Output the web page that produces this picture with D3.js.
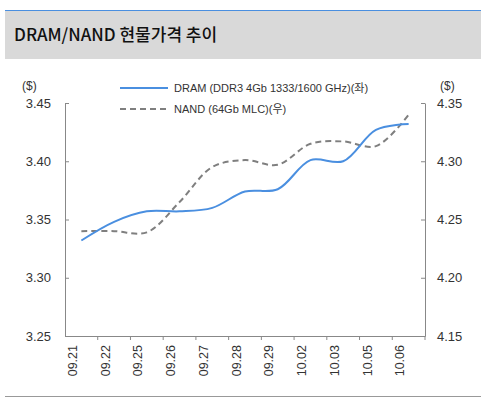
<!DOCTYPE html><html><head><meta charset="utf-8"><script src="https://cdn.jsdelivr.net/npm/d3@7"></script>
<style>body{margin:0;background:#fff}</style></head><body><svg id="c" width="492" height="402"></svg><script>
const categories=["09.21","09.22","09.25","09.26","09.27","09.28","09.29","10.02","10.03","10.05","10.06"];
const dram=[3.332,3.348,3.357,3.357,3.360,3.374,3.376,3.401,3.400,3.427,3.432];
const nand=[4.240,4.240,4.239,4.265,4.295,4.301,4.297,4.315,4.317,4.313,4.340];
const leftTicks=[3.25,3.30,3.35,3.40,3.45];
const rightTicks=[4.15,4.20,4.25,4.30,4.35];
const svg=d3.select("#c");
const F="'Noto Sans CJK KR','Noto Sans',sans-serif";
svg.append("rect").attr("x",5).attr("y",10).attr("width",476).attr("height",49).attr("fill","#d9d9d9");
svg.append("line").attr("x1",5).attr("x2",481).attr("y1",10.5).attr("y2",10.5).attr("stroke","#4a8fe0").attr("stroke-width",1);
svg.append("text").attr("x",14).attr("y",41).attr("font-family",F).attr("font-size",17).attr("font-weight",500).attr("fill","#111").text("DRAM/NAND 현물가격 추이");
svg.append("line").attr("x1",5).attr("x2",481).attr("y1",396.5).attr("y2",396.5).attr("stroke","#999");
const x=d3.scaleBand().domain(categories).range([65,425]);
const yL=d3.scaleLinear().domain([3.25,3.45]).range([336,103]);
const yR=d3.scaleLinear().domain([4.15,4.35]).range([336,103]);
const g=svg.append("g").attr("font-family","Arial,'Liberation Sans',sans-serif");
const ax=g.append("g").attr("transform","translate(0,336)").call(d3.axisBottom(x).tickSize(4).tickSizeOuter(0));
ax.selectAll(".tick line").attr("transform",`translate(${x.bandwidth()/2},0)`);
const al=g.append("g").attr("transform","translate(65,0)").call(d3.axisLeft(yL).tickValues(leftTicks).tickFormat(d3.format(".2f")).tickSize(-4).tickSizeOuter(0).tickPadding(14));
const ar=g.append("g").attr("transform","translate(425,0)").call(d3.axisRight(yR).tickValues(rightTicks).tickFormat(d3.format(".2f")).tickSize(-4).tickSizeOuter(0).tickPadding(12));
[ax,al,ar].forEach(a=>{a.selectAll("path,line").attr("stroke","#888");a.selectAll("text").attr("font-size",13).attr("fill","#333");});
ax.selectAll("text").attr("transform","rotate(-90)").attr("text-anchor","end").attr("dx","-0.4em").attr("dy","-0.35em").attr("x",-4).attr("y",0).attr("font-size",12.5);
g.append("text").attr("x",22).attr("y",90).attr("font-size",12).attr("fill","#333").text("($)");
g.append("text").attr("x",440).attr("y",90).attr("font-size",12).attr("fill","#333").text("($)");
const cx=d=>x(d)+x.bandwidth()/2;
const line=(ys,vals)=>d3.line().x((d,i)=>cx(categories[i])).y(d=>ys(d)).curve(d3.curveCatmullRom.alpha(0.5))(vals);
svg.append("path").attr("d",line(yR,nand)).attr("fill","none").attr("stroke","#7f7f7f").attr("stroke-width",2).attr("stroke-dasharray","6,4");
svg.append("path").attr("d",line(yL,dram)).attr("fill","none").attr("stroke","#4a8fe0").attr("stroke-width",2);
const lg=svg.append("g").attr("font-family","Arial,'Liberation Sans','Noto Sans CJK KR',sans-serif").attr("font-size",11).attr("fill","#333");
lg.append("line").attr("x1",120).attr("x2",168).attr("y1",88).attr("y2",88).attr("stroke","#4a8fe0").attr("stroke-width",2);
lg.append("line").attr("x1",120).attr("x2",168).attr("y1",109).attr("y2",109).attr("stroke","#7f7f7f").attr("stroke-width",2).attr("stroke-dasharray","6,4");
lg.append("text").attr("x",174).attr("y",92).text("DRAM (DDR3 4Gb 1333/1600 GHz)(좌)");
lg.append("text").attr("x",174).attr("y",113).text("NAND (64Gb MLC)(우)");
</script></body></html>
